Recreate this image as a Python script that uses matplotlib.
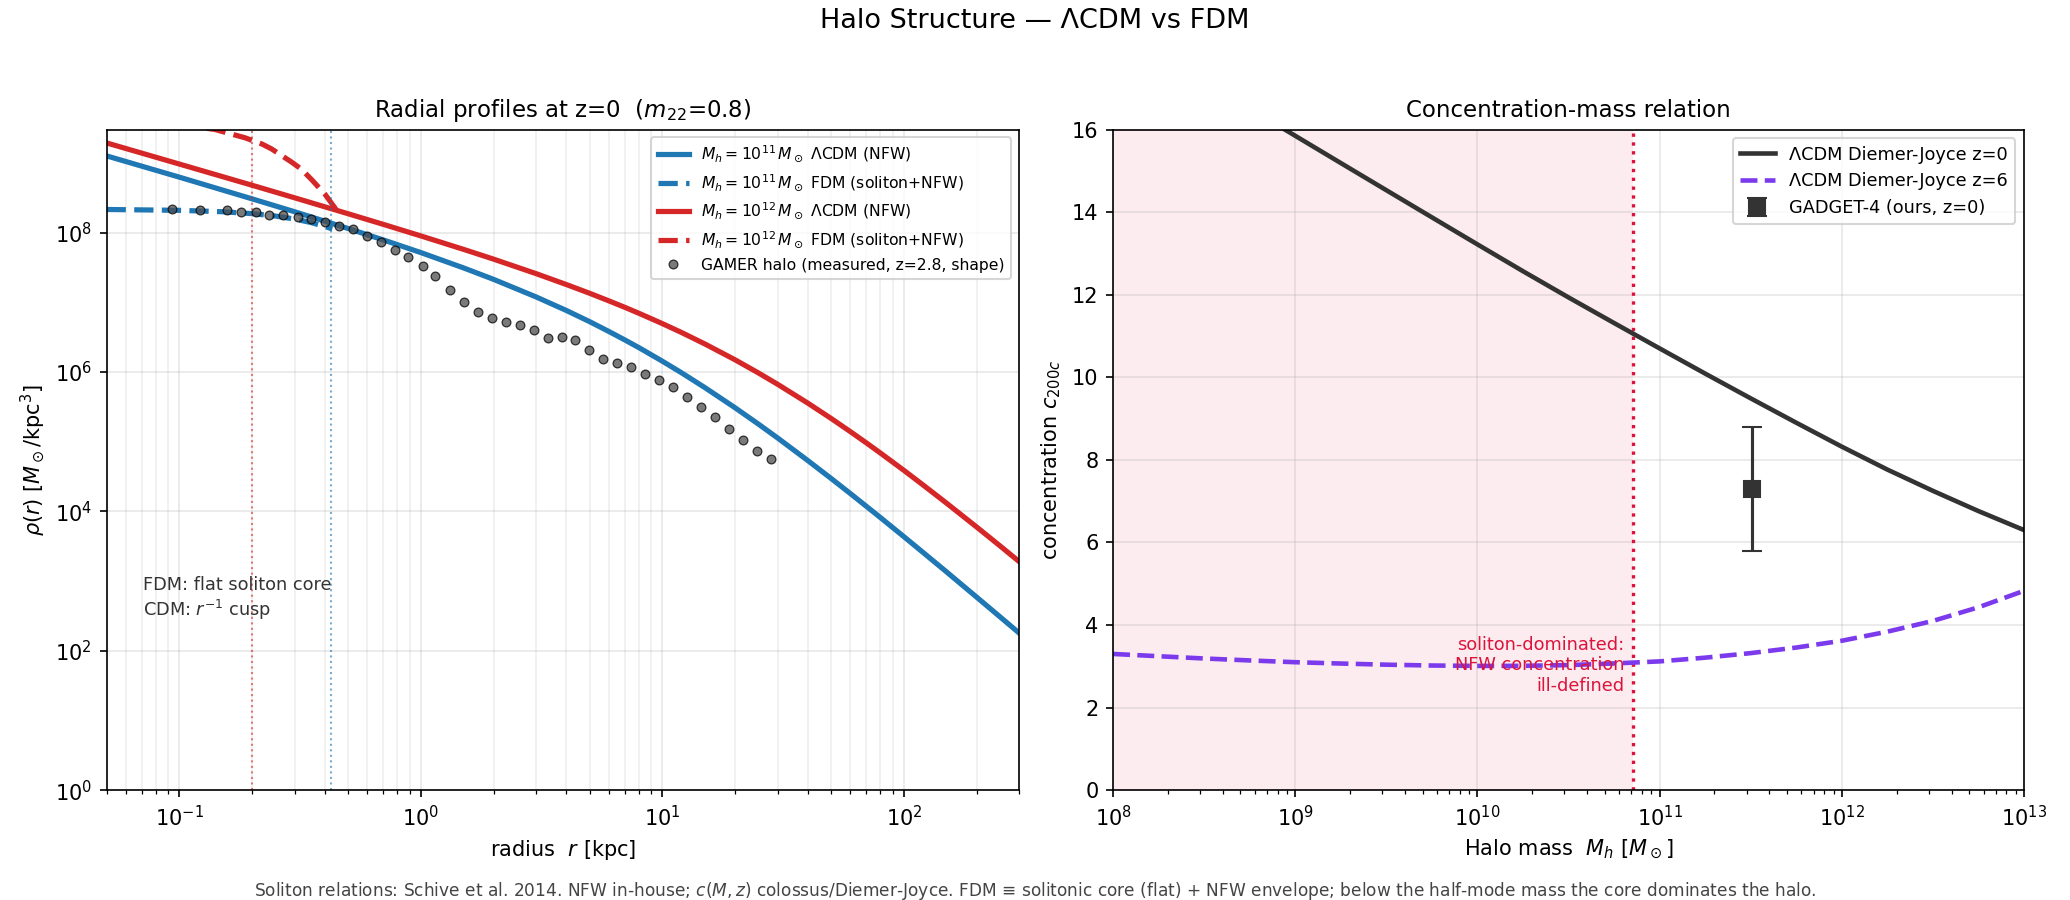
import matplotlib
matplotlib.use("Agg")
from matplotlib import pyplot as plt
from matplotlib.ticker import NullLocator
import numpy as np


# Radial profiles (left panel) -- densities kept as log10(rho) [Msun/kpc^3]
r_nfw = [0.05, 0.1, 0.2, 0.3, 0.5, 0.7, 1, 1.5, 2, 3, 4, 5, 6, 7, 8, 10, 12, 15, 20, 25, 30,
         40, 50, 60, 70, 80, 100, 120, 150, 200, 250, 300]
logrho_nfw_11 = [9.100, 8.795, 8.484, 8.299, 8.058, 7.894, 7.713, 7.494, 7.329, 7.077, 6.883,
                 6.722, 6.582, 6.459, 6.349, 6.155, 5.989, 5.776, 5.487, 5.252, 5.054, 4.730,
                 4.472, 4.257, 4.072, 3.911, 3.638, 3.412, 3.134, 2.771, 2.488, 2.256]
logrho_nfw_12 = [9.286, 8.983, 8.679, 8.499, 8.270, 8.117, 7.952, 7.760, 7.619, 7.411, 7.255,
                 7.129, 7.021, 6.927, 6.842, 6.694, 6.567, 6.402, 6.175, 5.986, 5.824, 5.554,
                 5.333, 5.145, 4.982, 4.837, 4.589, 4.380, 4.120, 3.777, 3.506, 3.281]

# soliton cores (FDM), only drawn inside the transition radius
r_sol_11 = [0.05, 0.1, 0.15, 0.2, 0.25, 0.3, 0.35, 0.4, 0.43]
logrho_sol_11 = [8.331, 8.319, 8.299, 8.272, 8.237, 8.194, 8.145, 8.088, 8.052]
r_sol_12 = [0.1, 0.14, 0.187, 0.22, 0.241, 0.292, 0.32, 0.353, 0.401, 0.425, 0.448]
logrho_sol_12 = [9.55, 9.48, 9.36, 9.27, 9.20, 9.01, 8.91, 8.76, 8.55, 8.43, 8.32]

# core radii markers
r_core_12 = 0.2
r_core_11 = 0.425

# GAMER measured halo
r_gamer = [0.0935, 0.1215, 0.158, 0.180, 0.207, 0.236, 0.270, 0.309, 0.351, 0.401, 0.458, 0.522,
           0.597, 0.682, 0.780, 0.889, 1.02, 1.15, 1.32, 1.51, 1.72, 1.97, 2.25, 2.58, 2.94, 3.37,
           3.85, 4.37, 4.97, 5.69, 6.50, 7.43, 8.50, 9.72, 11.1, 12.7, 14.4, 16.5, 18.8, 21.5,
           24.6, 28.1]
logrho_gamer = [8.335, 8.321, 8.321, 8.302, 8.288, 8.259, 8.253, 8.220, 8.191, 8.158, 8.101, 8.047,
                7.956, 7.870, 7.755, 7.645, 7.515, 7.371, 7.180, 6.997, 6.863, 6.777, 6.719, 6.676,
                6.604, 6.489, 6.504, 6.460, 6.317, 6.187, 6.124, 6.072, 5.971, 5.889, 5.784, 5.640,
                5.501, 5.347, 5.180, 5.022, 4.868, 4.748]

# Concentration-mass (right panel), masses as log10(M/Msun)
logm_halo = [8.0, 8.25, 8.5, 8.75, 9.0, 9.25, 9.5, 9.75, 10.0, 10.25, 10.5, 10.75, 11.0,
             11.25, 11.5, 11.75, 12.0, 12.25, 12.5, 12.75, 13.0]
c_dj_z0 = [18.50, 17.835, 17.172, 16.51, 15.85, 15.19, 14.532, 13.875, 13.22, 12.57, 11.935,
           11.315, 10.70, 10.09, 9.49, 8.90, 8.32, 7.765, 7.25, 6.76, 6.30]
c_dj_z6 = [3.30, 3.245, 3.19, 3.143, 3.10, 3.068, 3.04, 3.02, 3.01, 3.012, 3.03, 3.07, 3.12,
           3.21, 3.32, 3.455, 3.62, 3.84, 4.10, 4.43, 4.83]
m_gadget = 3.2e11
c_gadget = 7.3
c_gadget_err = 1.5
m_halfmode = 7.1e10


blue = "#1f77b4"
red = "#d62728"

fig = plt.figure(figsize=(13.8, 6), dpi=150)
ax1 = fig.add_axes([0.0515, 0.122, 0.4408, 0.734])
ax2 = fig.add_axes([0.5377, 0.122, 0.4401, 0.734])

# Left: radial profiles ------------------------------------------------------------------------------------------
ax1.plot(r_nfw, 10 ** np.array(logrho_nfw_11), color=blue, lw=2.5,
         label=r"$M_h=10^{11}\,M_\odot$ ΛCDM (NFW)")
ax1.plot(r_sol_11, 10 ** np.array(logrho_sol_11), color=blue, lw=2.5, ls="--",
         label=r"$M_h=10^{11}\,M_\odot$ FDM (soliton+NFW)")
ax1.plot(r_nfw, 10 ** np.array(logrho_nfw_12), color=red, lw=2.5,
         label=r"$M_h=10^{12}\,M_\odot$ ΛCDM (NFW)")
ax1.plot(r_sol_12, 10 ** np.array(logrho_sol_12), color=red, lw=2.5, ls="--",
         label=r"$M_h=10^{12}\,M_\odot$ FDM (soliton+NFW)")
ax1.axvline(r_core_12, color=red, ls=":", lw=1, alpha=0.6)
ax1.axvline(r_core_11, color=blue, ls=":", lw=1, alpha=0.6)
ax1.plot(r_gamer, 10 ** np.array(logrho_gamer), "o", color="0.3", mec="k", mew=0.6, ms=4.2,
         alpha=0.75, label="GAMER halo (measured, z=2.8, shape)", zorder=5)

ax1.set_xscale("log")
ax1.set_yscale("log")
ax1.set_xlim(0.05, 300)
ax1.set_ylim(1, 3e9)
ax1.set_yticks([1, 1e2, 1e4, 1e6, 1e8])
ax1.yaxis.set_minor_locator(NullLocator())
ax1.grid(True, which="major", alpha=0.3)
ax1.grid(True, which="minor", axis="x", alpha=0.2)
ax1.text(0.04, 0.255, "FDM: flat soliton core\nCDM: $r^{-1}$ cusp", transform=ax1.transAxes,
         fontsize=8.5, color="#333333", va="bottom", ha="left")
ax1.set_xlabel("radius  $r$ [kpc]", fontsize=10)
ax1.set_ylabel(r"$\rho(r)$ [$M_\odot$/kpc$^3$]", fontsize=10)
ax1.set_title("Radial profiles at z=0  ($m_{22}$=0.8)", fontsize=11)
ax1.legend(loc="upper right", fontsize=7.5)

# Right: concentration-mass -------------------------------------------------------------------------------------
m_grid = 10 ** np.array(logm_halo)
ax2.axvspan(1e8, m_halfmode, color="crimson", alpha=0.08, lw=0)
ax2.axvline(m_halfmode, color="crimson", ls=":", lw=1.6)
ax2.plot(m_grid, c_dj_z0, color="#333333", lw=2.2, label="ΛCDM Diemer-Joyce z=0")
ax2.plot(m_grid, c_dj_z6, color="#7c3aed", lw=2.2, ls="--", label="ΛCDM Diemer-Joyce z=6")
ax2.errorbar([m_gadget], [c_gadget], yerr=[c_gadget_err], fmt="s", color="#333333", ms=8,
             capsize=5, lw=1.5, label="GADGET-4 (ours, z=0)", zorder=5)
ax2.text(m_halfmode * 0.9, 2.3, "soliton-dominated:\nNFW concentration\nill-defined",
         color="crimson", fontsize=8.5, ha="right", va="bottom")

ax2.set_xscale("log")
ax2.set_xlim(1e8, 1e13)
ax2.set_ylim(0, 16)
ax2.grid(True, which="major", alpha=0.3)
ax2.set_xlabel(r"Halo mass  $M_h$ [$M_\odot$]", fontsize=10)
ax2.set_ylabel("concentration $c_{200c}$", fontsize=10)
ax2.set_title("Concentration-mass relation", fontsize=11)
ax2.legend(loc="upper right", fontsize=8.5)

fig.suptitle("Halo Structure — ΛCDM vs FDM", fontsize=13, y=0.977, va="center")
fig.text(0.5, 0.01, "Soliton relations: Schive et al. 2014. NFW in-house; $c(M,z)$ colossus/Diemer-Joyce. "
         "FDM ≡ solitonic core (flat) + NFW envelope; below the half-mode mass the core dominates the halo.",
         ha="center", va="center", fontsize=8.2, color="#444444")

fig.savefig("out.png", dpi=150)
